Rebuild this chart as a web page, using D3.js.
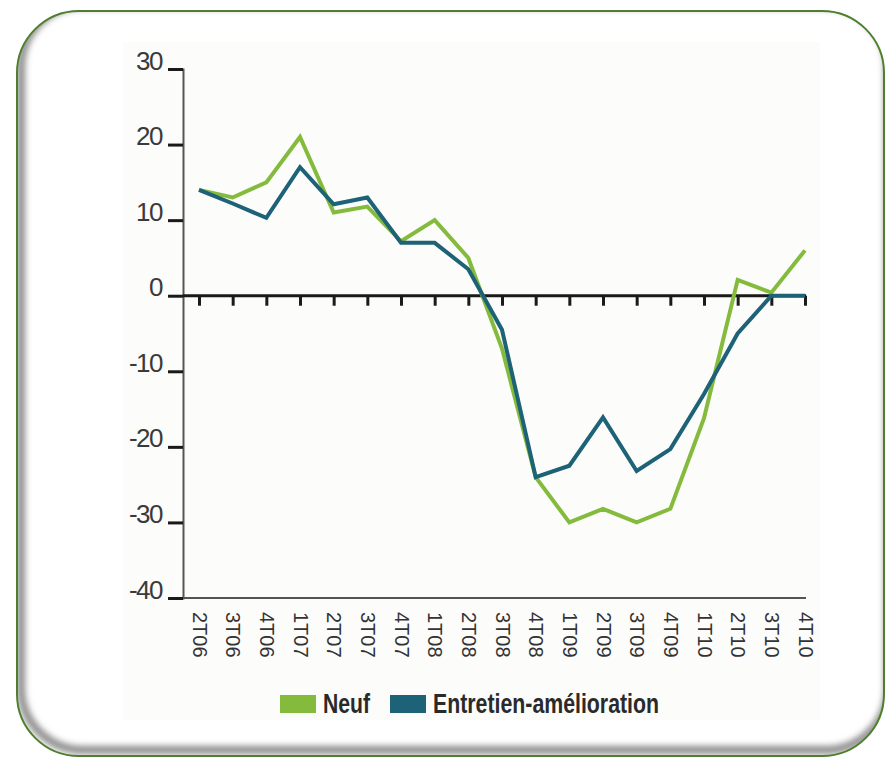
<!DOCTYPE html>
<html>
<head>
	<meta charset="utf-8">
	<title>Neuf / Entretien-amélioration</title>
	<script src="https://d3js.org/d3.v7.min.js"></script>
	<style>
		body { margin: 0; background: #fff; }
		svg { display: block; }
	</style>
</head>
<body>
	<div class="chart"></div>

	<script type="text/javascript">
		// données
		const categories = ['2T06', '3T06', '4T06', '1T07', '2T07', '3T07', '4T07', '1T08', '2T08', '3T08',
			'4T08', '1T09', '2T09', '3T09', '4T09', '1T10', '2T10', '3T10', '4T10']
		const neuf = [14, 13, 15, 21, 11, 11.8, 7.2, 10, 5, -7, -24, -30, -28.2, -30, -28.2, -16.2, 2.1, 0.4, 6]
		const entretien = [14, 12.2, 10.3, 17, 12.1, 13, 7, 7, 3.5, -4.5, -24, -22.5, -16.1, -23.2, -20.3, -13, -5, 0, 0]
		const yTicks = [30, 20, 10, 0, -10, -20, -30, -40]
		const seriesNames = ['Neuf', 'Entretien-amélioration']
		const colors = ['#84bb3c', '#1d6277']

		const width = 885
		const height = 761

		const svg = d3.select('.chart').append('svg')
			.attr('width', width)
			.attr('height', height)

		const defs = svg.append('defs')
		const blur = defs.append('filter').attr('id', 'blur')
			.attr('x', '-10%').attr('y', '-10%').attr('width', '120%').attr('height', '120%')
		blur.append('feGaussianBlur').attr('stdDeviation', 3)
		defs.append('clipPath').attr('id', 'frameClip')
			.append('rect')
			.attr('x', 17).attr('y', 11).attr('width', 867).attr('height', 745).attr('rx', 62)

		// cadre arrondi
		svg.append('rect')
			.attr('x', 17).attr('y', 11)
			.attr('width', 867).attr('height', 745)
			.attr('rx', 62)
			.attr('fill', '#fff')

		// ombre intérieure
		svg.append('g')
			.attr('clip-path', 'url(#frameClip)')
			.append('rect')
			.attr('x', 21).attr('y', 5)
			.attr('width', 867).attr('height', 745)
			.attr('rx', 62)
			.attr('fill', 'none')
			.attr('stroke', '#8a8a8a')
			.attr('stroke-width', 8)
			.attr('filter', 'url(#blur)')

		svg.append('rect')
			.attr('x', 17).attr('y', 11)
			.attr('width', 867).attr('height', 745)
			.attr('rx', 62)
			.attr('fill', 'none')
			.attr('stroke', '#4e7f2e')
			.attr('stroke-width', 2)

		// fond du graphique
		svg.append('rect')
			.attr('x', 123).attr('y', 42)
			.attr('width', 697).attr('height', 678)
			.attr('fill', '#fcfcfa')

		const xScale = d3.scalePoint()
			.domain(categories)
			.range([199, 805])

		const yScale = d3.scaleLinear()
			.domain([-40, 30])
			.range([598, 69])

		const chart = svg.append('g')

		// axe vertical
		const yAxis = d3.axisLeft(yScale)
			.tickValues(yTicks)
			.tickSize(15)
			.tickPadding(6)
			.tickFormat(d => d)

		const gy = chart.append('g')
			.attr('transform', 'translate(183, 0)')
			.call(yAxis)
		gy.select('.domain').attr('stroke', '#555').attr('stroke-width', 2)
		gy.selectAll('.tick line').attr('stroke', '#1a1a1a').attr('stroke-width', 3)
		gy.selectAll('.tick text')
			.attr('dy', 0)
			.attr('fill', '#3a3a3a')
			.style('font-family', '"Liberation Sans", Arial, sans-serif')
			.style('font-size', '26px')
			.style('letter-spacing', '-1.5px')

		// ligne du bas (-40) avec libellés
		const xAxisBottom = d3.axisBottom(xScale)
			.tickSize(0)
			.tickPadding(0)

		const gxb = chart.append('g')
			.attr('transform', `translate(0, ${yScale(-40)})`)
			.call(xAxisBottom)
		gxb.select('.domain')
			.attr('d', `M183,0H806`)
			.attr('stroke', '#555')
			.attr('stroke-width', 2)
		gxb.selectAll('.tick text')
			.attr('transform', 'rotate(90)')
			.attr('x', 14)
			.attr('y', 0)
			.attr('dy', '0.35em')
			.attr('text-anchor', 'start')
			.attr('fill', '#333')
			.style('font-family', '"Liberation Sans", Arial, sans-serif')
			.style('font-size', '20px')

		// axe du zéro
		const xAxisZero = d3.axisBottom(xScale)
			.tickSize(10)
			.tickFormat('')

		const gx0 = chart.append('g')
			.attr('transform', `translate(0, ${yScale(0)})`)
			.call(xAxisZero)
		gx0.select('.domain')
			.attr('d', `M183,0H806`)
			.attr('stroke', '#1a1a1a')
			.attr('stroke-width', 3)
		gx0.selectAll('.tick line').attr('stroke', '#1a1a1a').attr('stroke-width', 3)

		// courbes
		const line = d3.line()
			.x((d, i) => xScale(categories[i]))
			.y(d => yScale(d))

		;[neuf, entretien].forEach((values, i) => {
			chart.append('path')
				.attr('d', line(values))
				.attr('fill', 'none')
				.attr('stroke', colors[i])
				.attr('stroke-width', 4)
				.attr('stroke-linejoin', 'miter')
		})

		// légende
		const legendX = [280, 390]
		const legendWidths = [47, 226]
		const legend = svg.append('g').attr('transform', 'translate(0, 695)')
		seriesNames.forEach((name, i) => {
			legend.append('rect')
				.attr('x', legendX[i]).attr('y', 0)
				.attr('width', 36).attr('height', 18)
				.attr('fill', colors[i])
			legend.append('text')
				.attr('x', legendX[i] + 43)
				.attr('y', 18)
				.attr('textLength', legendWidths[i])
				.attr('lengthAdjust', 'spacingAndGlyphs')
				.attr('fill', '#2a2a2a')
				.style('font-family', '"Liberation Sans Narrow", "Liberation Sans", Arial, sans-serif')
				.style('font-weight', 'bold')
				.style('font-size', '27px')
				.text(name)
		})
	</script>
</body>
</html>
